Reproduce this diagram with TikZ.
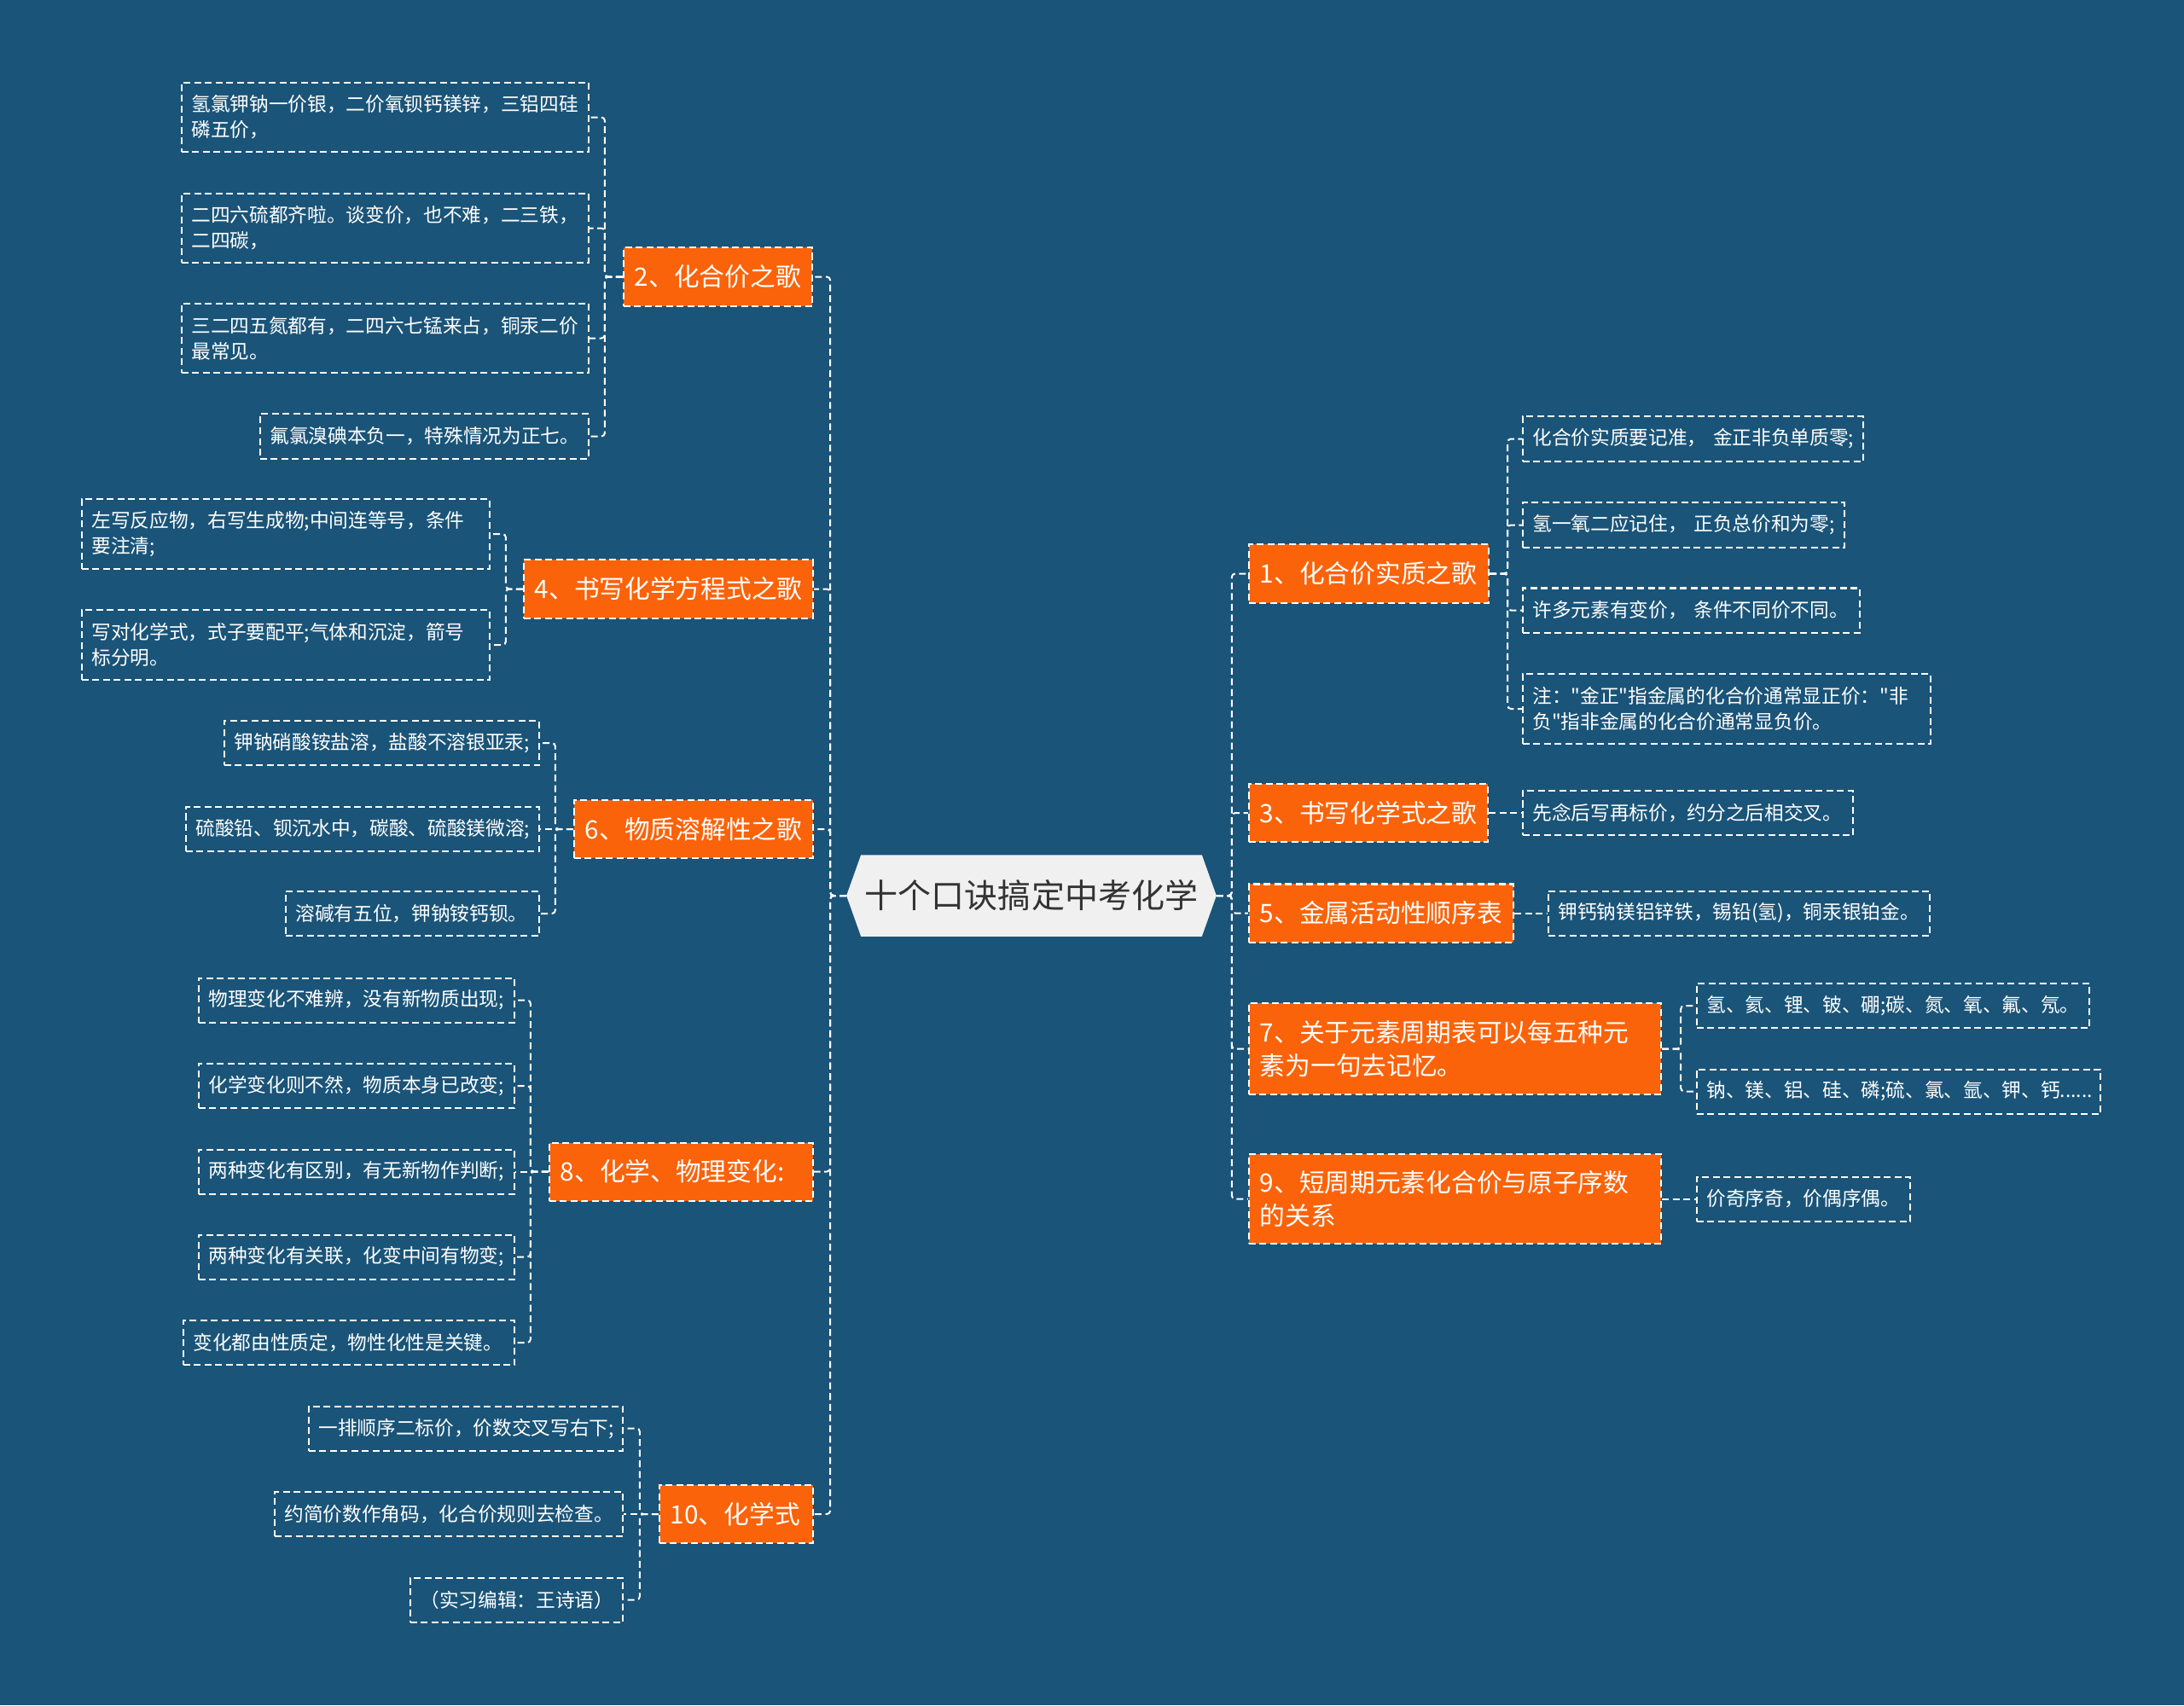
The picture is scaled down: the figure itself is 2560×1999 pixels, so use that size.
\documentclass[tikz,border=0pt]{standalone}
\usepackage{fontspec}
\setmainfont{Noto Sans CJK SC}
\newfontfamily\plainq{Noto Sans CJK SC}[Ligatures=ResetAll]
\usetikzlibrary{backgrounds}
\definecolor{bgblue}{RGB}{26,84,120}
\definecolor{nodeorange}{RGB}{250,99,10}
\definecolor{rootfill}{RGB}{240,240,240}
\definecolor{roottext}{RGB}{51,51,51}
\newcommand{\sq}{{\plainq\char"22\relax}}
\begin{document}
\begin{tikzpicture}[x=0.01cm,y=-0.01cm,
  dashline/.style={draw=white,line width=0.02cm,dash pattern=on 0.08cm off 0.045cm},
  conn/.style={dashline,rounded corners=0.04cm},
  mainbox/.style={dashline,fill=nodeorange,text=white,font=\fontsize{8.45pt}{11.1pt}\selectfont,align=left,inner xsep=0.13cm,inner ysep=0pt,minimum height=0.68cm},
  leafbox/.style={dashline,text=white,font=\fontsize{6.45pt}{8.53pt}\selectfont,align=left,inner xsep=0.115cm,inner ysep=0pt,minimum height=0.52cm},
  leaftwo/.style={leafbox,minimum height=0.815cm},
  rootbox/.style={text=roottext,font=\fontsize{11.1pt}{13pt}\selectfont,inner sep=0pt,minimum width=4.32cm,minimum height=0.94cm}
]
\useasboundingbox (0,0) rectangle (2560,1999);
\begin{pgfonlayer}{background}
\fill[bgblue] (0,0) rectangle (2560,1999);
\end{pgfonlayer}

% root
\node[rootbox] (root) at (1209,1050) {十个口诀搞定中考化学};
\begin{pgfonlayer}{background}
\fill[rootfill] (root.west) -- ([xshift=0.17cm]root.north west) -- ([xshift=-0.17cm]root.north east) -- (root.east) -- ([xshift=-0.17cm]root.south east) -- ([xshift=0.17cm]root.south west) -- cycle;
\end{pgfonlayer}

% left main nodes
\node[mainbox,text width=1.95cm] (n2) at (841.5,324.5) {2、化合价之歌};
\node[mainbox,text width=3.13cm] (n4) at (783.5,690.5) {4、书写化学方程式之歌};
\node[mainbox,text width=2.54cm] (n6) at (813,972) {6、物质溶解性之歌};
\node[mainbox,text width=2.83cm] (n8) at (798.5,1373.5) {8、化学、物理变化:};
\node[mainbox,text width=1.54cm] (n10) at (863,1775) {10、化学式};

% right main nodes
\node[mainbox,text width=2.55cm] (n1) at (1604.5,672.5) {1、化合价实质之歌};
\node[mainbox,text width=2.54cm] (n3) at (1604,953) {3、书写化学式之歌};
\node[mainbox,text width=2.84cm] (n5) at (1619,1070.5) {5、金属活动性顺序表};
\node[mainbox,text width=4.57cm,minimum height=1.07cm] (n7) at (1705.5,1229.5) {7、关于元素周期表可以每五种元\\素为一句去记忆。};
\node[mainbox,text width=4.57cm,minimum height=1.05cm] (n9) at (1705.5,1405.5) {9、短周期元素化合价与原子序数\\的关系};

% leaves of n2
\node[leaftwo,text width=4.54cm] (c2a) at (451.5,137.5) {氢氯钾钠一价银，二价氧钡钙镁锌，三铝四硅\\磷五价，};
\node[leaftwo,text width=4.54cm] (c2b) at (451.5,267.5) {二四六硫都齐啦。谈变价，也不难，二三铁，\\二四碳，};
\node[leaftwo,text width=4.54cm] (c2c) at (451.5,396.5) {三二四五氮都有，二四六七锰来占，铜汞二价\\最常见。};
\node[leafbox,text width=3.62cm] (c2d) at (497.5,511.5) {氟氯溴碘本负一，特殊情况为正七。};

% leaves of n4
\node[leaftwo,text width=4.55cm] (c4a) at (335,626) {左写反应物，右写生成物;中间连等号，条件\\要注清;};
\node[leaftwo,text width=4.55cm] (c4b) at (335,756) {写对化学式，式子要配平;气体和沉淀，箭号\\标分明。};

% leaves of n6
\node[leafbox,text width=3.46cm] (c6a) at (447.5,871) {钾钠硝酸铵盐溶，盐酸不溶银亚汞;};
\node[leafbox,text width=3.91cm] (c6b) at (425,972) {硫酸铅、钡沉水中，碳酸、硫酸镁微溶;};
\node[leafbox,text width=2.74cm] (c6c) at (483.5,1071) {溶碱有五位，钾钠铵钙钡。};

% leaves of n8
\node[leafbox,text width=3.47cm] (c8a) at (418,1172.5) {物理变化不难辨，没有新物质出现;};
\node[leafbox,text width=3.47cm] (c8b) at (418,1273) {化学变化则不然，物质本身已改变;};
\node[leafbox,text width=3.47cm] (c8c) at (418,1373.5) {两种变化有区别，有无新物作判断;};
\node[leafbox,text width=3.47cm] (c8d) at (418,1473.5) {两种变化有关联，化变中间有物变;};
\node[leafbox,text width=3.65cm] (c8e) at (409,1574) {变化都由性质定，物性化性是关键。};

% leaves of n10
\node[leafbox,text width=3.45cm] (c10a) at (546,1674.5) {一排顺序二标价，价数交叉写右下;};
\node[leafbox,text width=3.85cm] (c10b) at (526,1775) {约简价数作角码，化合价规则去检查。};
\node[leafbox,text width=2.26cm] (c10c) at (605.5,1875.5) {（实习编辑：王诗语）};

% leaves of n1
\node[leafbox,text width=3.76cm] (c1a) at (1984.5,514.5) {化合价实质要记准，~金正非负单质零;};
\node[leafbox,text width=3.54cm] (c1b) at (1973.5,615.5) {氢一氧二应记住，~正负总价和为零;};
\node[leafbox,text width=3.72cm] (c1c) at (1982.5,715.5) {许多元素有变价，~条件不同价不同。};
\node[leaftwo,text width=4.55cm] (c1d) at (2024,831) {注：\sq 金正\sq 指金属的化合价通常显正价：\sq 非\\负\sq 指非金属的化合价通常显负价。};

% leaves of n3, n5
\node[leafbox,text width=3.64cm] (c3) at (1978.5,953) {先念后写再标价，约分之后相交叉。};
\node[leafbox,text width=4.24cm] (c5) at (2038.5,1070.5) {钾钙钠镁铝锌铁，锡铅(氢)，铜汞银铂金。};

% leaves of n7, n9
\node[leafbox,text width=4.37cm] (c7a) at (2219,1179) {氢、氦、锂、铍、硼;碳、氮、氧、氟、氖。};
\node[leafbox,text width=4.50cm] (c7b) at (2225.5,1279.5) {钠、镁、铝、硅、磷;硫、氯、氩、钾、钙......};
\node[leafbox,text width=2.27cm] (c9) at (2114,1405.5) {价奇序奇，价偶序偶。};

% trunk connectors (left)
\foreach \n in {n2,n4,n6,n8,n10}
  \draw[conn] (root.west) -- ++(-19,0) |- (\n.east);
% trunk connectors (right)
\foreach \n in {n1,n3,n5,n7,n9}
  \draw[conn] (root.east) -- ++(18,0) |- (\n.west);

% left leaf connectors
\foreach \c in {c2a,c2b,c2c,c2d}
  \draw[conn] (n2.west) -- ++(-21,0) |- (\c.east);
\foreach \c in {c4a,c4b}
  \draw[conn] (n4.west) -- ++(-20,0) |- (\c.east);
\foreach \c in {c6a,c6c}
  \draw[conn] (n6.west) -- ++(-21,0) |- (\c.east);
\draw[conn] (n6.west) -- (c6b.east);
\foreach \c in {c8a,c8b,c8d,c8e}
  \draw[conn] (n8.west) -- ++(-21,0) |- (\c.east);
\draw[conn] (n8.west) -- (c8c.east);
\foreach \c in {c10a,c10c}
  \draw[conn] (n10.west) -- ++(-22,0) |- (\c.east);
\draw[conn] (n10.west) -- (c10b.east);

% right leaf connectors
\foreach \c in {c1a,c1b,c1c,c1d}
  \draw[conn] (n1.east) -- ++(21,0) |- (\c.west);
\draw[conn] (n3.east) -- (c3.west);
\draw[conn] (n5.east) -- (c5.west);
\foreach \c in {c7a,c7b}
  \draw[conn] (n7.east) -- ++(22,0) |- (\c.west);
\draw[conn] (n9.east) -- (c9.west);
\end{tikzpicture}
\end{document}
